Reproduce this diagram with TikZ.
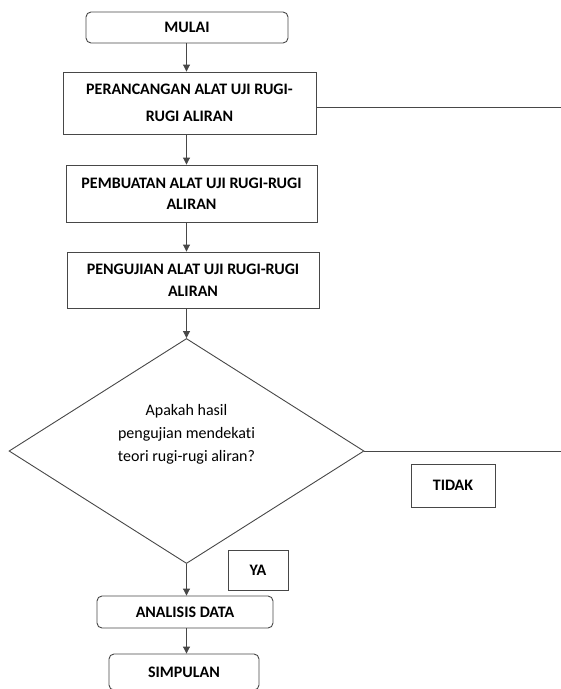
\documentclass[tikz,border=0pt]{standalone}
\usepackage{fontspec}
\setmainfont[Ligatures=NoCommon]{Carlito}
\usetikzlibrary{arrows.meta,shapes.geometric}
\begin{document}
\begin{tikzpicture}[x=1pt,y=-1pt,
  ln/.style={draw=black!72,line width=0.9pt},
  arr/.style={ln,-{Triangle[length=7pt,width=7pt]}},
  boxnode/.style={ln,rectangle,inner sep=0pt,align=center,font=\fontsize{16}{21}\selectfont\bfseries},
  roundbox/.style={boxnode,rounded corners=5pt},
  labelbox/.style={boxnode}
]
\useasboundingbox (0,0) rectangle (561,689);
\node[roundbox,minimum width=202pt,minimum height=31pt] (mulai) at (187,27.5) {MULAI};
\node[boxnode,minimum width=253pt,minimum height=62pt,font=\fontsize{16}{27}\selectfont\bfseries] (peran) at (189.5,103) {PERANCANGAN ALAT UJI RUGI-\\RUGI ALIRAN};
\node[boxnode,minimum width=251pt,minimum height=57pt] (pembuatan) at (191.5,193.5) {PEMBUATAN ALAT UJI RUGI-RUGI\\ALIRAN};
\node[boxnode,minimum width=252pt,minimum height=56pt,font=\fontsize{16}{22}\selectfont\bfseries] (pengujian) at (193,280) {PENGUJIAN ALAT UJI RUGI-RUGI\\ALIRAN};
\node[ln,diamond,inner sep=0pt,minimum width=355pt,minimum height=225pt] (dec) at (186.5,451) {};
\node[align=center,inner sep=0pt,font=\fontsize{16}{23}\selectfont] (dectext) at (186.5,434) {Apakah hasil\\pengujian mendekati\\teori rugi-rugi aliran?};
\node[labelbox,minimum width=84pt,minimum height=43pt] (tidak) at (453,485.5) {TIDAK};
\node[labelbox,minimum width=60pt,minimum height=40pt] (ya) at (258,570) {YA};
\node[roundbox,minimum width=176pt,minimum height=32pt] (analisis) at (185,612) {ANALISIS DATA};
\node[roundbox,minimum width=150pt,minimum height=36pt] (simpulan) at (184,672) {SIMPULAN};
\coordinate (r1) at (561,107);
\coordinate (r2) at (561,451);
\draw[arr] (mulai.south -| dec.north) -- (peran.north -| dec.north);
\draw[arr] (peran.south -| dec.north) -- (pembuatan.north -| dec.north);
\draw[arr] (pembuatan.south -| dec.north) -- (pengujian.north -| dec.north);
\draw[arr] (pengujian.south -| dec.north) -- (dec.north);
\draw[arr] (dec.south) -- (analisis.north -| dec.south);
\draw[arr] (analisis.south -| dec.south) -- (simpulan.north -| dec.south);
\draw[ln] (r1 -| peran.east) -- (r1);
\draw[ln] (dec.east) -- (r2);
\end{tikzpicture}
\end{document}
